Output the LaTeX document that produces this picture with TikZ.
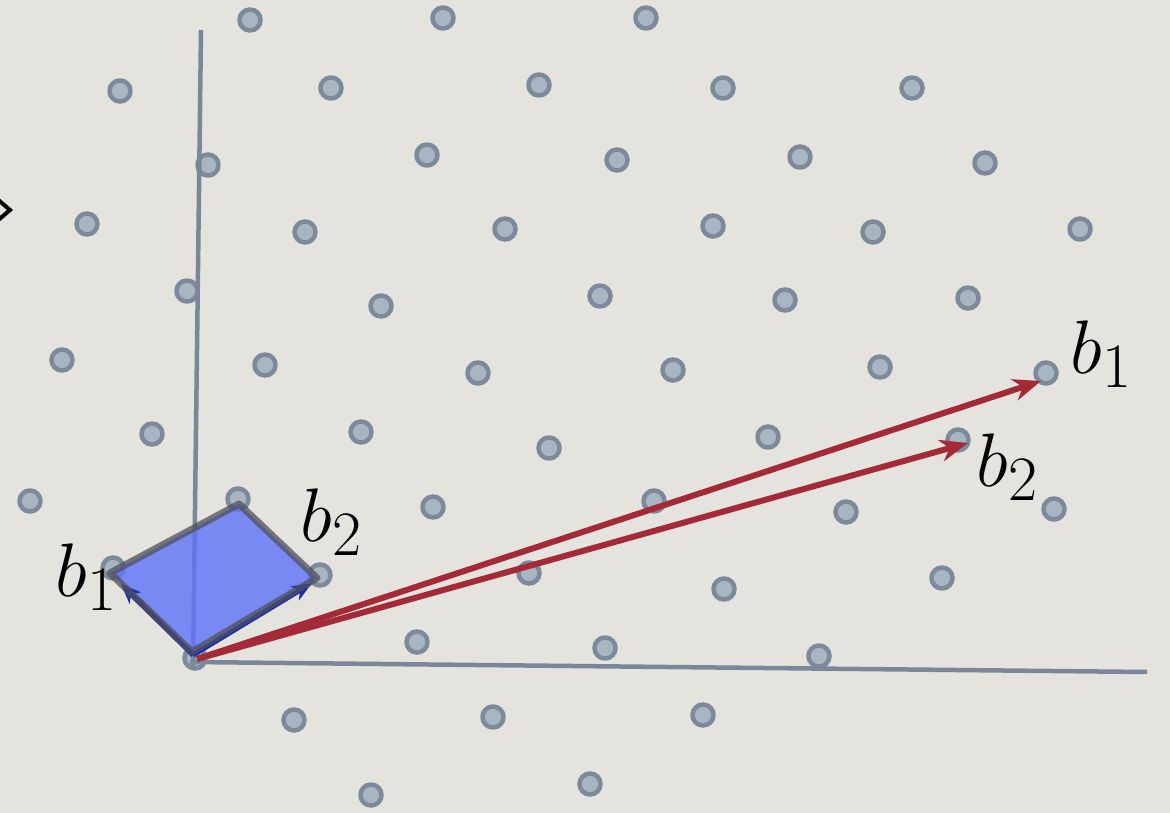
\documentclass[tikz,border=0pt]{standalone}
\usetikzlibrary{arrows.meta}
\definecolor{bg}{RGB}{229,227,222}
\definecolor{dotout}{RGB}{124,138,156}
\definecolor{dotin}{RGB}{168,182,194}
\definecolor{axis}{RGB}{122,135,153}
\definecolor{redarr}{RGB}{165,42,55}
\definecolor{bluearr}{RGB}{25,45,180}
\definecolor{cellfill}{RGB}{95,115,250}
\definecolor{cellline}{RGB}{80,80,90}
\tikzset{
  lat/.style={circle, fill=dotin, draw=dotout, line width=4.5pt, minimum size=21pt, inner sep=0pt},
  axisline/.style={draw=axis, line width=4.5pt},
  bigvec/.style={draw=redarr, line width=6pt, -{Stealth[length=28pt,width=22pt,inset=9pt]}},
  smallvec/.style={draw=bluearr, line width=5pt, -{Stealth[length=20pt,width=16pt,inset=6pt]}},
  cellfill/.style={fill=cellfill, fill opacity=0.8},
  celledge/.style={draw=cellline, draw opacity=0.75, line width=7pt, line join=round},
  lbl/.style={inner sep=0pt, anchor=base west, font=\Huge, scale=3.05}
}
\begin{document}
\begin{tikzpicture}[x=1pt,y=-1pt]
\fill[bg] (0,0) rectangle (1170,813);
\useasboundingbox (0,0) rectangle (1170,813);
% lattice points
\foreach \x/\y [count=\i] in {
 250/20, 443/18, 646/18,
 120/91, 331/88, 539/85, 723/88, 912/88,
 208/165, 427/155, 617/160, 800/157, 985/163,
 87/224, 305/232, 505/229, 713/226, 873/232, 1080/229,
 187/291, 381/306, 600/296, 785/300, 968/298,
 62/360, 265/365, 478/373, 673/370, 880/367, 1046/373,
 152/434, 361/432, 549/448, 768/437, 958/440,
 30/501, 238/499, 433/507, 654/501, 846/512, 1054/509,
 113/568, 320/575, 529/573, 724/589, 942/578,
 195/658, 417/642, 605/648, 819/656,
 294/720, 493/717, 703/715,
 371/795, 590/784}
 \node[lat] (d\i) at (\x,\y) {};
% axes
\coordinate (ytop) at (201,30);
\coordinate (ybot) at (193,670);
\coordinate (xl) at (190,662);
\coordinate (xr) at (1147,672);
\draw[axisline] (ytop) -- (ybot);
\draw[axisline] (xl) -- (xr);
% basis points
\coordinate (O) at (192,652);
\coordinate (p1) at (110,573);
\coordinate (p3) at (239,504);
\coordinate (p2) at (317,578);
\coordinate (Ob) at (193,655);
\coordinate (t1) at (121,584);
\coordinate (t2) at (312,583);
% fundamental cell
\fill[cellfill] (O) -- (p1) -- (p3) -- (p2) -- cycle;
% small blue basis vectors
\draw[smallvec] (Ob) -- (t1);
\draw[smallvec] (Ob) -- (t2);
\draw[celledge] (O) -- (p1) -- (p3) -- (p2) -- cycle;
% long red basis
\coordinate (R) at (197,659);
\coordinate (r1) at (1041,381);
\coordinate (r2) at (968,443);
\draw[bigvec] (R) -- (r1);
\draw[bigvec] (R) -- (r2);
% labels
\node[lbl] (lb1) at (55,596) {$b_1$};
\node[lbl] (lb2) at (300,541) {$b_2$};
\node[lbl] (rb1) at (1070,373) {$b_1$};
\node[lbl] (rb2) at (976,486) {$b_2$};
% chevron at left edge
\draw[line width=4pt, line join=miter] (-4,198) -- (10,210) -- (-4,222);
\end{tikzpicture}
\end{document}
